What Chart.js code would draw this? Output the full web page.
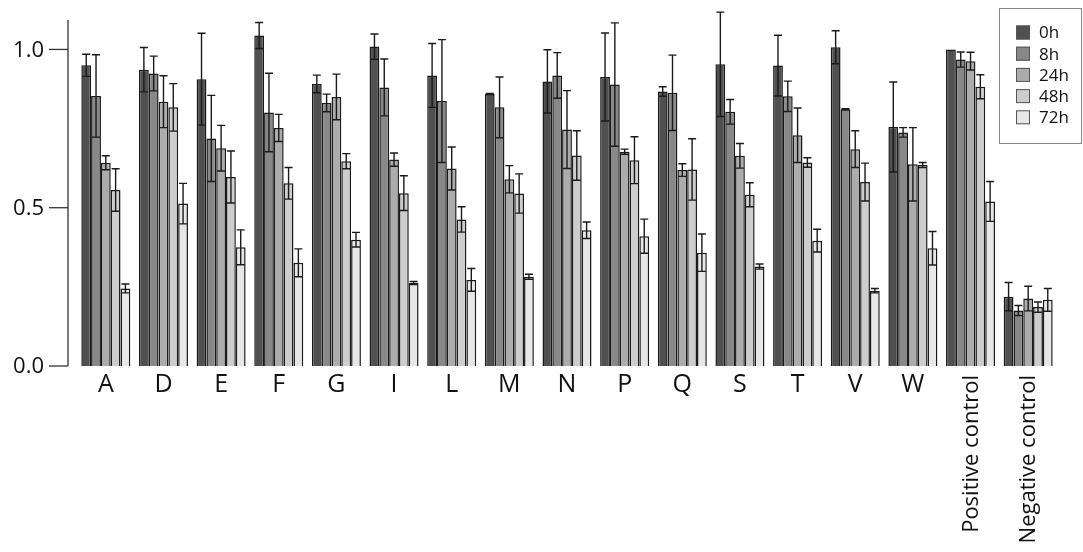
<!DOCTYPE html>
<html>
<head>
<meta charset="utf-8">
<script src="https://cdn.jsdelivr.net/npm/chart.js@4/dist/chart.umd.min.js"></script>
<style>
  html, body { margin: 0; padding: 0; background: #fff; }
  #wrap { width: 1083px; height: 552px; }
</style>
</head>
<body>
<div id="wrap"><canvas id="chart" width="1083" height="552"></canvas></div>
<script>
// categories and series
const categories = ['A', 'D', 'E', 'F', 'G', 'I', 'L', 'M', 'N', 'P', 'Q', 'S', 'T', 'V', 'W', 'Positive control', 'Negative control'];
const seriesNames = ['0h', '8h', '24h', '48h', '72h'];
const seriesColors = ['#505050', '#888888', '#acacac', '#cdcdcd', '#e7e7e7'];

const values0h  = [0.950, 0.936, 0.906, 1.044, 0.891, 1.009, 0.918, 0.859, 0.899, 0.913, 0.867, 0.953, 0.949, 1.007, 0.755, 1.000, 0.219];
const values8h  = [0.853, 0.924, 0.719, 0.801, 0.831, 0.880, 0.837, 0.817, 0.918, 0.889, 0.863, 0.803, 0.852, 0.811, 0.738, 0.968, 0.175];
const values24h = [0.642, 0.835, 0.688, 0.752, 0.850, 0.652, 0.624, 0.590, 0.747, 0.677, 0.619, 0.664, 0.729, 0.685, 0.637, 0.963, 0.213];
const values48h = [0.556, 0.817, 0.597, 0.577, 0.647, 0.546, 0.463, 0.545, 0.665, 0.650, 0.621, 0.541, 0.643, 0.581, 0.635, 0.882, 0.186];
const values72h = [0.245, 0.513, 0.375, 0.326, 0.399, 0.262, 0.272, 0.282, 0.429, 0.410, 0.358, 0.314, 0.396, 0.238, 0.372, 0.520, 0.209];

const errors0h  = [0.035, 0.070, 0.145, 0.041, 0.028, 0.040, 0.101, 0.002, 0.100, 0.139, 0.015, 0.165, 0.096, 0.052, 0.142, 0.000, 0.045];
const errors8h  = [0.130, 0.055, 0.136, 0.124, 0.028, 0.090, 0.194, 0.096, 0.072, 0.195, 0.119, 0.039, 0.048, 0.002, 0.015, 0.024, 0.016];
const errors24h = [0.022, 0.082, 0.072, 0.043, 0.072, 0.021, 0.068, 0.043, 0.123, 0.008, 0.020, 0.039, 0.086, 0.058, 0.116, 0.028, 0.039];
const errors48h = [0.067, 0.075, 0.082, 0.050, 0.024, 0.055, 0.040, 0.062, 0.078, 0.074, 0.097, 0.038, 0.015, 0.060, 0.008, 0.038, 0.016];
const errors72h = [0.014, 0.064, 0.055, 0.044, 0.023, 0.005, 0.036, 0.008, 0.026, 0.054, 0.059, 0.008, 0.036, 0.007, 0.053, 0.063, 0.036];

const yTicks = [0.0, 0.5, 1.0];

const allValues = [values0h, values8h, values24h, values48h, values72h];
const allErrors = [errors0h, errors8h, errors24h, errors48h, errors72h];

const FONT = '"Open Sans", "Noto Sans", sans-serif';
const INK = '#1a1a1a';

// error bars, axis, category labels and legend
const decorations = {
  id: 'decorations',
  afterDatasetsDraw(chart) {
    const ctx = chart.ctx;
    const y = chart.scales.y;
    const area = chart.chartArea;
    ctx.save();

    // error bars
    ctx.strokeStyle = INK;
    ctx.lineWidth = 1.4;
    chart.data.datasets.forEach((ds, di) => {
      const meta = chart.getDatasetMeta(di);
      meta.data.forEach((bar, i) => {
        const err = ds.errors[i];
        if (!err) return;
        const v = ds.data[i];
        const yt = y.getPixelForValue(v + err);
        const yb = y.getPixelForValue(v - err);
        const x = bar.x;
        const cap = 4;
        ctx.beginPath();
        ctx.moveTo(x, yt); ctx.lineTo(x, yb);
        ctx.moveTo(x - cap, yt); ctx.lineTo(x + cap, yt);
        ctx.moveTo(x - cap, yb); ctx.lineTo(x + cap, yb);
        ctx.stroke();
      });
    });

    // y axis
    const axisX = area.left - 9;
    ctx.strokeStyle = '#333';
    ctx.lineWidth = 1.3;
    ctx.beginPath();
    ctx.moveTo(axisX, area.top);
    ctx.lineTo(axisX, y.getPixelForValue(0));
    ctx.stroke();
    ctx.fillStyle = '#111';
    ctx.font = '22px ' + FONT;
    ctx.textAlign = 'right';
    ctx.textBaseline = 'middle';
    yTicks.forEach(t => {
      const py = y.getPixelForValue(t);
      ctx.beginPath();
      ctx.moveTo(axisX - 19, py);
      ctx.lineTo(axisX, py);
      ctx.stroke();
      ctx.fillText(t.toFixed(1), axisX - 24, py + 1);
    });

    // x labels
    const xs = chart.scales.x;
    ctx.font = '25px ' + FONT;
    categories.forEach((c, i) => {
      const px = xs.getPixelForValue(i);
      if (c.length > 2) {
        ctx.save();
        ctx.translate(px + 1, area.bottom + 9);
        ctx.rotate(-Math.PI / 2);
        ctx.font = '22px ' + FONT;
        ctx.textAlign = 'right';
        ctx.textBaseline = 'middle';
        ctx.fillText(c, 0, 0);
        ctx.restore();
      } else {
        ctx.textAlign = 'center';
        ctx.textBaseline = 'top';
        ctx.fillText(c, px, area.bottom + 6);
      }
    });

    // legend
    const lx = 999, ly = 8, lw = 82, lh = 135;
    ctx.fillStyle = '#fff';
    ctx.fillRect(lx, ly, lw, lh);
    ctx.strokeStyle = '#888';
    ctx.lineWidth = 1;
    ctx.strokeRect(lx + 0.5, ly + 0.5, lw, lh);
    ctx.font = '17px ' + FONT;
    ctx.textAlign = 'left';
    ctx.textBaseline = 'middle';
    chart.data.datasets.forEach((ds, di) => {
      const cy = 32.5 + di * 21.2;
      ctx.fillStyle = ds.backgroundColor;
      ctx.fillRect(1016, cy - 7, 14, 14);
      ctx.strokeStyle = '#555';
      ctx.strokeRect(1016.5, cy - 6.5, 13, 13);
      ctx.fillStyle = '#111';
      ctx.fillText(ds.label, 1039, cy + 1);
    });

    ctx.restore();
  }
};

new Chart(document.getElementById('chart'), {
  type: 'bar',
  data: {
    labels: categories,
    datasets: seriesNames.map((name, i) => ({
      label: name,
      data: allValues[i],
      errors: allErrors[i],
      backgroundColor: seriesColors[i],
      borderColor: INK,
      borderWidth: 1.5,
      categoryPercentage: 0.85,
      barPercentage: 1.0
    }))
  },
  options: {
    responsive: false,
    animation: false,
    layout: { padding: { left: 77, right: 26, top: 20, bottom: 186 } },
    plugins: { legend: { display: false }, tooltip: { enabled: false } },
    scales: {
      x: { display: false, offset: true },
      y: { display: false, min: 0, max: 1.093 }
    }
  },
  plugins: [decorations]
});
</script>
</body>
</html>
